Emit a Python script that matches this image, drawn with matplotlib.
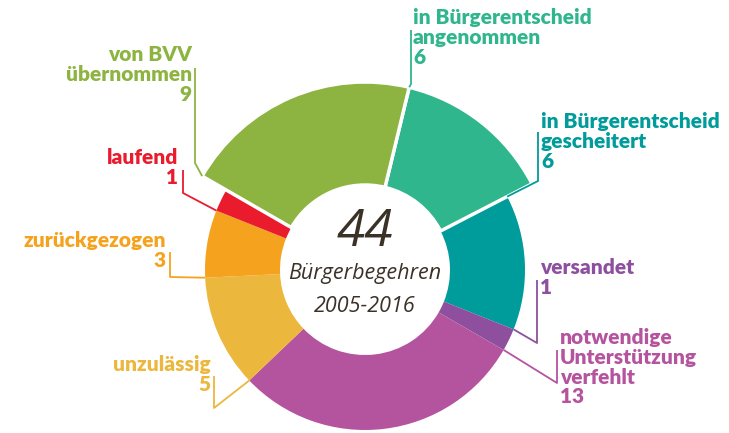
import numpy as np
import matplotlib
matplotlib.use("Agg")
import matplotlib.pyplot as plt

# data, clockwise starting at the top
categories = ["in Bürgerentscheid\nangenommen", "in Bürgerentscheid\ngescheitert",
              "versandet", "notwendige\nUnterstützung\nverfehlt", "unzulässig",
              "zurückgezogen", "laufend", "von BVV\nübernommen"]
values = [6, 6, 1, 13, 5, 3, 1, 9]
highlight = [True, False, False, False, False, False, False, True]
colors = ["#2fb68c", "#009b9b", "#8e509e", "#b5549e", "#ecb73d",
          "#f5a31f", "#e91b2d", "#8db441"]
center_lines = ["44", "Bürgerbegehren", "2005-2016"]

W, H = 729, 433
cx, cy = 365, H - 270
r_in, r_out, r_big = 85, 160, 188
start = 76.4  # degrees, matplotlib convention

fig = plt.figure(figsize=(W / 100, H / 100), dpi=100)
ax = fig.add_axes([0, 0, 1, 1])

wedges, _ = ax.pie(values, colors=colors, startangle=start, counterclock=False,
                   radius=r_out, center=(cx, cy),
                   wedgeprops=dict(width=r_out - r_in, linewidth=0))
for w, hl in zip(wedges, highlight):
    if hl:
        w.set_radius(r_big)
        w.set_width(r_big - r_in)
        w.set_edgecolor("white")
        w.set_linewidth(2.5)
        w.set_zorder(3)

ax.set_xlim(0, W)
ax.set_ylim(0, H)
ax.set_aspect("equal")
ax.axis("off")

# label layout in pixel coords (y downwards): text x, text top, ha, leader elbow, leader top
layout = [
    (413, 8, "left", (411, 84), (411, 30)),
    (541, 112, "left", (538, 181), (538, 132)),
    (540, 258, "left", (537, 343), (537, 280)),
    (560, 328, "left", (557, 383), (557, 350)),
    (211, 355, "right", (214, 408), (214, 376)),
    (166, 231, "right", (170, 277), (170, 252)),
    (178, 148, "right", (183, 193), (183, 170)),
    (192, 45, "right", (195, 163), (195, 68)),
]

bounds = np.concatenate([[0], np.cumsum(values)])
tot = bounds[-1]
font = ["Lato", "DejaVu Sans"]
for i, (tx, ty, ha, elbow, top) in enumerate(layout):
    ang = np.deg2rad(start - 360 * bounds[i] / tot)
    r = r_big if highlight[i] else r_out
    ax_x = cx + r * np.cos(ang)
    ax_y = cy + r * np.sin(ang)
    ax.plot([ax_x, elbow[0], top[0]], [ax_y, H - elbow[1], H - top[1]],
            color=colors[i], lw=1.3, solid_capstyle="butt", zorder=4)
    ax.text(tx, H - ty, categories[i] + "\n" + str(values[i]), ha=ha, va="top",
            color=colors[i], fontsize=15, fontweight=800, family=font,
            linespacing=1.05)

cfont = ["Open Sans", "DejaVu Sans"]
ax.text(cx, H - 233, center_lines[0], ha="center", va="center", fontsize=37,
        style="italic", family=cfont, color="#3b3227")
ax.text(cx, H - 274, center_lines[1], ha="center", va="center", fontsize=15.5,
        style="italic", family=cfont, color="#3b3227")
ax.text(cx, H - 306, center_lines[2], ha="center", va="center", fontsize=15.5,
        style="italic", family=cfont, color="#3b3227")

fig.savefig("out.png", dpi=100)
